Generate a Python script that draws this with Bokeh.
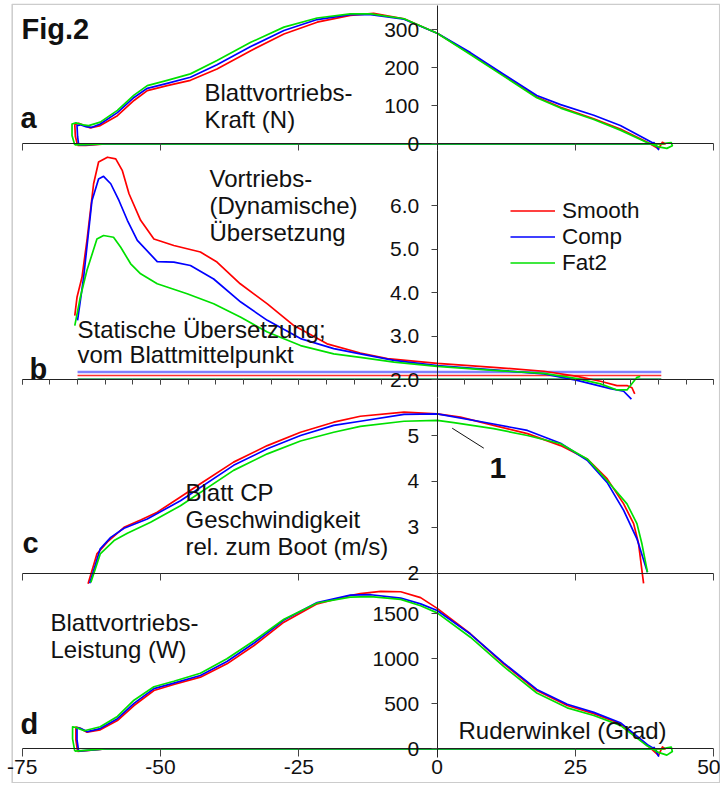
from bokeh.plotting import figure
from bokeh.models import (Range1d, LinearAxis, FixedTicker, Label, Legend, LegendItem,
                          Arrow, NumeralTickFormatter, BoxAnnotation)
from bokeh.embed import file_html
from bokeh.resources import INLINE

# ---------------- data ----------------
SERIES = ["Smooth", "Comp", "Fat2"]
COLORS = {"Smooth": "#ff0000", "Comp": "#0000ff", "Fat2": "#00e000"}

# a) Blade propulsive force (N) vs oar angle (deg)
FORCE_ANG_SMOOTH = [-65.0, -65.4, -65.5, -64.8, -63.6, -62.7, -60.9, -57.8, -54.8, -52.4, -48.8, -44.6, -39.8,
                    -33.7, -27.7, -21.7, -15.7, -11.5, -6.0, 0.0, 6.0, 12.0, 18.0, 22.3, 28.3, 33.1, 38.0,
                    40.0, 40.7, 41.2, 35.0, 0.0, -60.0, -63.5, -65.0]
FORCE_SMOOTH = [-4, 20, 50, 54, 47, 42, 48, 74, 114, 140, 153, 167, 197, 245, 289, 320, 338, 343, 329, 291,
                237, 180, 123, 96, 66, 39, 4, -13, 4, 0, 0, 0, 0, -4, -4]
FORCE_ANG_COMP = [-64.8, -65.0, -65.1, -64.5, -63.5, -62.5, -60.9, -57.8, -54.8, -52.4, -48.8, -44.6, -39.8,
                  -33.7, -27.7, -21.7, -15.7, -12.0, -6.0, 0.0, 6.0, 12.0, 18.0, 22.3, 28.3, 33.1, 38.0,
                  39.5, 40.0, 39.2, 38.5, 0.0, -60.0, -64.0, -64.8]
FORCE_COMP = [-3, 20, 48, 50, 45, 43, 52, 82, 122, 146, 159, 175, 208, 256, 298, 327, 340, 340, 328, 291,
              240, 183, 127, 103, 75, 48, 10, -2, -15, 3, 0, 0, 0, -3, -3]
FORCE_ANG_FAT2 = [-65.5, -66.0, -66.0, -65.3, -64.0, -63.0, -60.9, -57.8, -54.8, -52.4, -48.8, -44.6, -39.8,
                  -33.7, -27.7, -21.7, -15.7, -12.0, -6.0, 0.0, 6.0, 12.0, 18.0, 22.3, 28.3, 33.1, 38.0,
                  40.0, 41.5, 42.5, 42.3, 41.5, 40.8, 0.0, -60.0, -65.5]
FORCE_FAT2 = [-3, 22, 52, 55, 50, 48, 57, 88, 128, 153, 167, 184, 219, 267, 307, 331, 342, 342, 329, 291,
              235, 178, 121, 94, 64, 36, 3, -8, -12, -5, 3, 2, 0, 0, 0, -3, -3]

# b) propulsive (dynamic) gearing vs oar angle
GEAR_ANG_SMOOTH = [-65.5, -65.1, -64.2, -63.3, -62.1, -61.2, -59.6, -58.1, -56.9, -55.7, -53.6, -51.2, -47.6,
                   -42.8, -39.8, -35.6, -30.7, -25.9, -19.9, -13.9, -9.0, 0.0, 10.2, 19.3, 25.3, 29.5, 32.5,
                   34.3, 35.2, 35.7]
GEAR_SMOOTH = [3.47, 3.89, 4.35, 5.20, 6.50, 7.00, 7.11, 7.07, 6.80, 6.27, 5.66, 5.23, 5.08, 4.93, 4.70, 4.20,
               3.74, 3.24, 2.82, 2.61, 2.48, 2.37, 2.28, 2.19, 2.07, 1.96, 1.86, 1.86, 1.81, 1.67]
GEAR_ANG_COMP = [-65.0, -63.9, -62.4, -61.2, -60.3, -59.0, -57.5, -56.0, -54.2, -50.6, -47.6, -44.6, -40.4,
                 -35.5, -30.7, -24.7, -18.7, -13.9, -7.8, 0.0, 10.2, 19.3, 25.3, 31.3, 33.7, 35.1]
GEAR_COMP = [3.36, 4.35, 6.11, 6.61, 6.67, 6.50, 6.11, 5.66, 5.20, 4.71, 4.70, 4.62, 4.31, 3.78, 3.36, 2.94,
             2.71, 2.59, 2.44, 2.32, 2.22, 2.13, 1.98, 1.79, 1.73, 1.55]
GEAR_ANG_FAT2 = [-65.5, -64.5, -63.3, -61.5, -60.3, -58.5, -57.2, -55.4, -53.6, -50.6, -45.2, -40.4, -35.5,
                 -30.7, -24.7, -18.7, -13.9, -7.8, 0.0, 10.2, 19.3, 25.3, 29.5, 32.5, 34.3, 36.1, 36.7]
GEAR_FAT2 = [3.24, 3.89, 4.51, 5.23, 5.31, 5.27, 5.04, 4.66, 4.43, 4.20, 3.97, 3.74, 3.43, 3.09, 2.78, 2.59,
             2.51, 2.40, 2.30, 2.21, 2.14, 2.02, 1.90, 1.76, 1.76, 2.05, 2.07]
# static gearing (from blade centre)
STATIC_GEAR = {"Comp": 2.17, "Smooth": 2.09, "Fat2": 2.01}
STATIC_GEAR_COLORS = {"Comp": "#8080ff", "Smooth": "#ff3030", "Fat2": "#1e9a55"}
STATIC_ANG_RANGE = [-65.0, 40.5]

# c) blade CP velocity relative to the boat (m/s)
VEL_ANG_SMOOTH = [-63.1, -61.5, -59.6, -56.6, -53.6, -50.6, -46.4, -42.8, -36.8, -30.7, -24.7, -18.7, -13.9,
                  -6.0, 0.0, 4.2, 10.2, 16.3, 22.3, 27.1, 30.7, 33.7, 35.5, 36.4, 37.0, 37.3]
VEL_SMOOTH = [1.77, 2.42, 2.68, 3.00, 3.16, 3.33, 3.66, 3.95, 4.42, 4.78, 5.07, 5.29, 5.42, 5.51, 5.47, 5.40,
              5.22, 5.04, 4.78, 4.49, 4.06, 3.51, 3.08, 2.64, 2.06, 1.78]
VEL_ANG_COMP = [-62.8, -60.9, -59.0, -56.6, -52.4, -46.4, -36.8, -30.7, -24.7, -18.7, -13.9, -6.0, 0.0, 10.2,
                16.3, 22.3, 27.1, 30.7, 33.7, 36.1, 38.0]
VEL_COMP = [1.78, 2.53, 2.78, 2.98, 3.18, 3.58, 4.35, 4.71, 5.00, 5.22, 5.31, 5.46, 5.47, 5.25, 5.11, 4.83,
            4.46, 3.98, 3.37, 2.75, 2.02]
VEL_ANG_FAT2 = [-62.6, -60.9, -58.4, -56.0, -51.8, -46.4, -36.8, -30.7, -24.7, -18.7, -13.9, -6.0, 0.0, 3.0,
                10.2, 16.3, 22.3, 27.1, 30.7, 34.3, 36.1, 37.0, 38.0]
VEL_FAT2 = [1.80, 2.42, 2.71, 2.87, 3.11, 3.47, 4.24, 4.60, 4.88, 5.07, 5.20, 5.31, 5.33, 5.28, 5.15, 5.00,
            4.82, 4.49, 4.02, 3.51, 3.08, 2.64, 2.02]

# d) blade propulsive power (W)
POW_ANG_SMOOTH = [-65.0, -65.3, -65.3, -64.6, -63.3, -60.9, -57.8, -54.8, -51.2, -47.6, -42.8, -38.0, -33.1,
                  -27.7, -21.7, -15.7, -13.9, -10.2, -6.6, -3.0, 0.0, 6.0, 12.0, 18.0, 23.5, 28.3, 33.1, 38.0,
                  40.0, 40.7, 41.2, 0.0, -60.0, -65.0]
POW_SMOOTH = [-30, 100, 240, 230, 185, 211, 314, 481, 648, 714, 796, 944, 1148, 1407, 1611, 1703, 1725, 1750,
              1745, 1680, 1560, 1278, 944, 648, 481, 389, 278, 37, -74, 20, 0, 0, 0, -30]
POW_ANG_COMP = [-64.8, -65.1, -65.1, -64.4, -63.2, -60.9, -57.8, -54.8, -51.2, -47.6, -42.8, -38.0, -33.1,
                -27.7, -21.7, -15.7, -12.0, -6.6, -3.0, 0.0, 6.0, 12.0, 18.0, 23.5, 28.3, 33.1, 38.0, 39.5,
                40.0, 39.2, 38.5, 0.0, -60.0, -64.8]
POW_COMP = [-25, 100, 235, 225, 190, 225, 335, 505, 668, 730, 815, 970, 1175, 1430, 1625, 1708, 1712, 1675,
            1610, 1537, 1275, 955, 660, 495, 405, 290, 45, -10, -80, 15, 0, 0, 0, -25]
POW_ANG_FAT2 = [-65.5, -65.9, -65.9, -65.2, -63.8, -60.9, -57.8, -54.8, -51.2, -47.6, -42.8, -38.0, -33.1,
                -27.7, -21.7, -15.7, -12.0, -6.6, -3.0, 0.0, 6.0, 12.0, 18.0, 23.5, 28.3, 33.1, 38.0, 40.0,
                41.5, 42.5, 42.3, 41.5, 40.8, 0.0, -60.0, -65.5]
POW_FAT2 = [-25, 110, 245, 235, 200, 245, 360, 540, 690, 750, 840, 1000, 1200, 1440, 1620, 1685, 1690, 1660,
            1590, 1510, 1240, 915, 620, 455, 370, 260, 30, -40, -70, -30, 20, 10, 0, 0, 0, -25]

X_TICKS = [-75, -50, -25, 0, 25, 50]
X_TICK_LABELS = ["-75", "-50", "-25", "0", "25", "50"]
X_MINOR = list(range(-75, 51, 5))
Y_TICKS = {"a": [0, 100, 200, 300], "b": [2, 3, 4, 5, 6], "c": [2, 3, 4, 5], "d": [0, 500, 1000, 1500]}

# ---------------- layout (pixel geometry of the panels) ----------------
FRAME_LEFT, FRAME_TOP = 2, 3      # page position of the plotting frame
FRAME_W, FRAME_H = 718, 780
BORDER_LEFT, BORDER_RIGHT = 11.7, 719.2   # page x of the drawn border box
TOP_REF, BOT_REF = FRAME_TOP, FRAME_TOP + FRAME_H
X0_PIX, X_SCALE = 436.7, 5.533   # page x of angle 0, px per degree
TEXT_DY = 9.5                    # correction of label baseline placement (px)
# panel: (value at anchor, page y of anchor, px per unit, page y of axis top, page y of axis bottom)
PANELS = {
    "a": (0.0, 143.3, 0.38, 5.0, 150.0),
    "b": (2.0, 379.0, 43.5, 150.0, 397.3),
    "c": (2.0, 572.7, 45.9, 397.3, 572.7),
    "d": (0.0, 748.3, 0.09, 572.7, 757.0),
}


def val_at(panel, y_ref):
    v0, y0, k, _, _ = PANELS[panel]
    return v0 + (y0 - y_ref) / k


def ang_at(x_pix):
    return (x_pix - X0_PIX) / X_SCALE


p = figure(frame_width=FRAME_W, frame_height=FRAME_H, output_backend="svg", toolbar_location=None,
           x_range=Range1d(ang_at(FRAME_LEFT), ang_at(FRAME_LEFT + FRAME_W)), y_range=Range1d(0, 1),
           x_axis_type=None, y_axis_type=None,
           min_border_left=FRAME_LEFT, min_border_top=FRAME_TOP, min_border_right=0, min_border_bottom=0)
p.outline_line_color = None
p.background_fill_color = "white"
# border box of the figure
p.add_layout(BoxAnnotation(left=ang_at(BORDER_LEFT), right=ang_at(BORDER_RIGHT),
                           bottom=0.75 / FRAME_H, top=1 - 0.75 / FRAME_H,
                           fill_alpha=0, line_color="#555555", line_width=1.5, level="underlay"))

for name in PANELS:
    p.extra_y_ranges[name] = Range1d(val_at(name, BOT_REF), val_at(name, TOP_REF))

FONT = "Liberation Sans"

# ---------------- axes ----------------
for name in PANELS:
    _, _, _, ytop, ybot = PANELS[name]
    ya = LinearAxis(y_range_name=name, fixed_location=0,
                    ticker=FixedTicker(ticks=Y_TICKS[name]),
                    bounds=(val_at(name, ybot), val_at(name, ytop)),
                    major_tick_out=6, major_tick_in=0, minor_tick_out=0, minor_tick_in=0,
                    major_label_standoff=12, axis_line_color="#222222", major_tick_line_color="#444444",
                    major_label_text_font=FONT, major_label_text_font_size="21px",
                    major_label_text_color="#111111")
    if name == "b":
        ya.formatter = NumeralTickFormatter(format="0.0")
    p.add_layout(ya, "left")

    xa = LinearAxis(y_range_name=name, fixed_location=PANELS[name][0],
                    ticker=FixedTicker(ticks=X_TICKS, minor_ticks=X_MINOR if name == "b" else []),
                    bounds=(-75, 50), axis_line_color="#222222",
                    major_tick_line_color="#444444", minor_tick_line_color="#444444",
                    major_tick_in=0, major_tick_out=5 if name == "b" else 7,
                    minor_tick_in=0, minor_tick_out=5,
                    major_label_text_font=FONT, major_label_text_font_size="21px",
                    major_label_text_color="#111111", major_label_standoff=3)
    if name != "d":
        xa.major_label_overrides = {t: "" for t in X_TICKS}
    else:
        xa.major_label_overrides = dict(zip(X_TICKS, X_TICK_LABELS))
        xa.major_tick_out = 8
    p.add_layout(xa, "below")

# ---------------- curves ----------------
force = {"Smooth": (FORCE_ANG_SMOOTH, FORCE_SMOOTH), "Comp": (FORCE_ANG_COMP, FORCE_COMP),
         "Fat2": (FORCE_ANG_FAT2, FORCE_FAT2)}
gear = {"Smooth": (GEAR_ANG_SMOOTH, GEAR_SMOOTH), "Comp": (GEAR_ANG_COMP, GEAR_COMP),
        "Fat2": (GEAR_ANG_FAT2, GEAR_FAT2)}
vel = {"Smooth": (VEL_ANG_SMOOTH, VEL_SMOOTH), "Comp": (VEL_ANG_COMP, VEL_COMP),
       "Fat2": (VEL_ANG_FAT2, VEL_FAT2)}
powr = {"Smooth": (POW_ANG_SMOOTH, POW_SMOOTH), "Comp": (POW_ANG_COMP, POW_COMP),
        "Fat2": (POW_ANG_FAT2, POW_FAT2)}

# static gearing lines
for s in ["Comp", "Smooth", "Fat2"]:
    p.segment(x0=[STATIC_ANG_RANGE[0]], x1=[STATIC_ANG_RANGE[1]], y0=[STATIC_GEAR[s]], y1=[STATIC_GEAR[s]],
              y_range_name="b", line_color=STATIC_GEAR_COLORS[s],
              line_width=2.5 if s == "Comp" else 1.5)

legend_renderers = {}
for panel, data in [("a", force), ("b", gear), ("c", vel), ("d", powr)]:
    for s in SERIES:
        xs, ys = data[s]
        r = p.line(xs, ys, y_range_name=panel, line_color=COLORS[s], line_width=1.7, line_join="round")
        if panel == "b":
            legend_renderers[s] = r

# legend box: page x 510, page y 199.5 .. 275.5
legend = Legend(items=[LegendItem(label=s, renderers=[legend_renderers[s]]) for s in SERIES],
                location=(510 - FRAME_LEFT, FRAME_TOP + FRAME_H - 275.5), orientation="vertical",
                glyph_width=45, glyph_height=25,
                label_height=25, label_standoff=7, spacing=0, padding=0, margin=0,
                border_line_color=None, background_fill_alpha=0,
                label_text_font=FONT, label_text_font_size="22.5px", label_text_color="#111111")
p.add_layout(legend)


# ---------------- texts ----------------
def add_text(txt, x_pix, y_ref, panel, size="24px", bold=False):
    p.add_layout(Label(x=ang_at(x_pix), y=val_at(panel, y_ref - TEXT_DY), y_range_name=panel,
                       text=txt, text_font=FONT, text_font_size=size,
                       text_font_style="bold" if bold else "normal",
                       text_baseline="alphabetic", text_align="left", text_color="#111111"))


add_text("Fig.2", 21, 38, "a", "29px", True)
add_text("a", 20, 127, "a", "29px", True)
add_text("Blattvortriebs-", 204, 101.7, "a")
add_text("Kraft (N)", 204, 128, "a")

add_text("Vortriebs-", 209, 187, "b")
add_text("(Dynamische)", 209, 214, "b")
add_text("Übersetzung", 209, 241, "b")
add_text("Statische Übersetzung;", 77, 338, "b")
add_text("vom Blattmittelpunkt", 77, 363, "b")
add_text("b", 29, 378, "b", "29px", True)

add_text("Blatt CP", 185, 501, "c")
add_text("Geschwindigkeit", 185, 528, "c")
add_text("rel. zum Boot (m/s)", 185, 555.5, "c")
add_text("c", 22, 551.5, "c", "29px", True)
add_text("1", 489, 476.5, "c", "30px", True)
p.add_layout(Arrow(x_start=ang_at(451.7), y_start=val_at("c", 427.7),
                   x_end=ang_at(483.3), y_end=val_at("c", 447.7),
                   y_range_name="c", end=None, line_color="#111111", line_width=1))

add_text("Blattvortriebs-", 50, 631.5, "d")
add_text("Leistung (W)", 50, 658, "d")
add_text("d", 20, 732.5, "d", "29px", True)
add_text("Ruderwinkel (Grad)", 458, 739.3, "d")

open("out.html", "w").write(file_html(p, INLINE))
